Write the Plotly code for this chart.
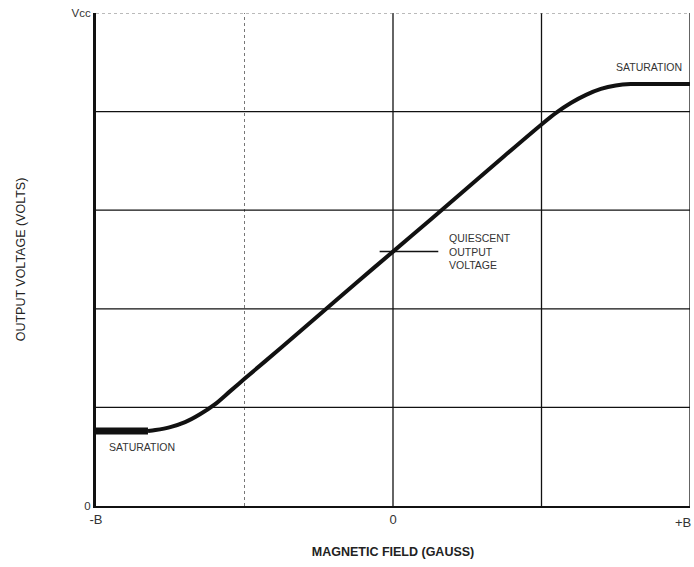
import plotly.graph_objects as go

# Data
field = [-3.3, -3.2, -3.0, -2.8, -2.6, -2.4, -2.2, -2.0, -1.5, -1.0, -0.5, 0.0, 0.5, 1.0, 1.5, 2.0,
         2.2, 2.4, 2.6, 2.8, 3.0, 3.2, 3.4, 4.0]
voltage = [0.76, 0.77, 0.80, 0.85, 0.93, 1.03, 1.16, 1.29, 1.61, 1.935, 2.26, 2.58, 2.90, 3.225, 3.55, 3.87,
           3.99, 4.09, 4.17, 4.23, 4.265, 4.28, 4.28, 4.28]
sat_low_x = [-4.0, -3.3]
sat_low_y = [0.76, 0.76]
quiescent_x = [-0.18, 0.61]
quiescent_y = [2.58, 2.58]

x_ticks = [-4, 0, 4]
x_tick_text = ["-B", "0", "+B"]
y_ticks = [0, 5]
y_tick_text = ["0", "Vcc"]
x_grid_solid = [0, 2]
x_grid_dotted = [-2]
y_grid = [1, 2, 3, 4]

fig = go.Figure()
fig.add_trace(go.Scatter(x=sat_low_x, y=sat_low_y, mode="lines",
                         line=dict(color="#111", width=7), showlegend=False, hoverinfo="skip"))
fig.add_trace(go.Scatter(x=field, y=voltage, mode="lines", line_shape="spline",
                         line=dict(color="#111", width=4, smoothing=0.8), showlegend=False))
fig.add_trace(go.Scatter(x=quiescent_x, y=quiescent_y, mode="lines",
                         line=dict(color="#111", width=1.5), showlegend=False, hoverinfo="skip"))

shapes = []
for gx in x_grid_solid:
    shapes.append(dict(type="line", xref="x", yref="y", x0=gx, x1=gx, y0=0, y1=5,
                       line=dict(color="#111", width=1.3), layer="below"))
for gx in x_grid_dotted:
    shapes.append(dict(type="line", xref="x", yref="y", x0=gx, x1=gx, y0=0, y1=5,
                       line=dict(color="#777", width=1, dash="dot"), layer="below"))
for gy in y_grid:
    shapes.append(dict(type="line", xref="x", yref="y", x0=-4, x1=4, y0=gy, y1=gy,
                       line=dict(color="#111", width=1.3), layer="below"))
# right border solid, top border dotted
shapes.append(dict(type="line", xref="x", yref="y", x0=4, x1=4, y0=0, y1=5,
                   line=dict(color="#111", width=1.3), layer="below"))
shapes.append(dict(type="line", xref="x", yref="y", x0=-4, x1=4, y0=5, y1=5,
                   line=dict(color="#777", width=1, dash="dot"), layer="below"))

txt = dict(family="Liberation Sans, Arial, sans-serif", size=10.5, color="#333")
tickfont = dict(family="Liberation Sans, Arial, sans-serif", size=13, color="#333")
annotations = [
    dict(x=3.92, y=4.28, xref="x", yref="y", text="SATURATION", showarrow=False,
         xanchor="right", yanchor="bottom", yshift=9, font=txt),
    dict(x=-3.85, y=0.76, xref="x", yref="y", text="SATURATION", showarrow=False,
         xanchor="left", yanchor="top", yshift=-8, font=txt),
    dict(x=0.73, y=2.58, xref="x", yref="y",
         text="QUIESCENT<br>OUTPUT<br>VOLTAGE",
         showarrow=False, xanchor="left", yanchor="middle", align="left", font=txt),
    # last x tick label drawn as annotation so it stays inside the page
    dict(x=x_ticks[-1], y=0, xref="x", yref="y", text=x_tick_text[-1], showarrow=False,
         xanchor="right", yanchor="top", xshift=3, yshift=-7, font=tickfont),
]

fig.update_layout(
    width=694, height=567,
    margin=dict(l=96, r=4, t=13, b=61, autoexpand=False),
    plot_bgcolor="white", paper_bgcolor="white",
    shapes=shapes, annotations=annotations,
    font=dict(family="Liberation Sans, Arial, sans-serif", color="#222"),
    xaxis=dict(range=[-4, 4], tickvals=x_ticks[:-1], ticktext=x_tick_text[:-1], showgrid=False,
               zeroline=False, showline=True, linecolor="#111", linewidth=2,
               ticks="", tickfont=tickfont, automargin=False,
               ticklabeloverflow="allow",
               title=dict(text="<b>MAGNETIC FIELD (GAUSS)</b>", font=dict(size=12.5, color="#222"), standoff=22)),
    yaxis=dict(range=[0, 5], tickvals=y_ticks, ticktext=y_tick_text, showgrid=False,
               zeroline=False, showline=True, linecolor="#111", linewidth=3,
               ticks="", tickfont=dict(size=11.5, color="#333"), automargin=False,
               ticklabeloverflow="allow",
               title=dict(text="OUTPUT VOLTAGE (VOLTS)", font=dict(size=12.5, color="#222"), standoff=44)),
)

fig.write_html("out.html", config={"displayModeBar": False},
               post_script="document.body.style.margin='0px';")
